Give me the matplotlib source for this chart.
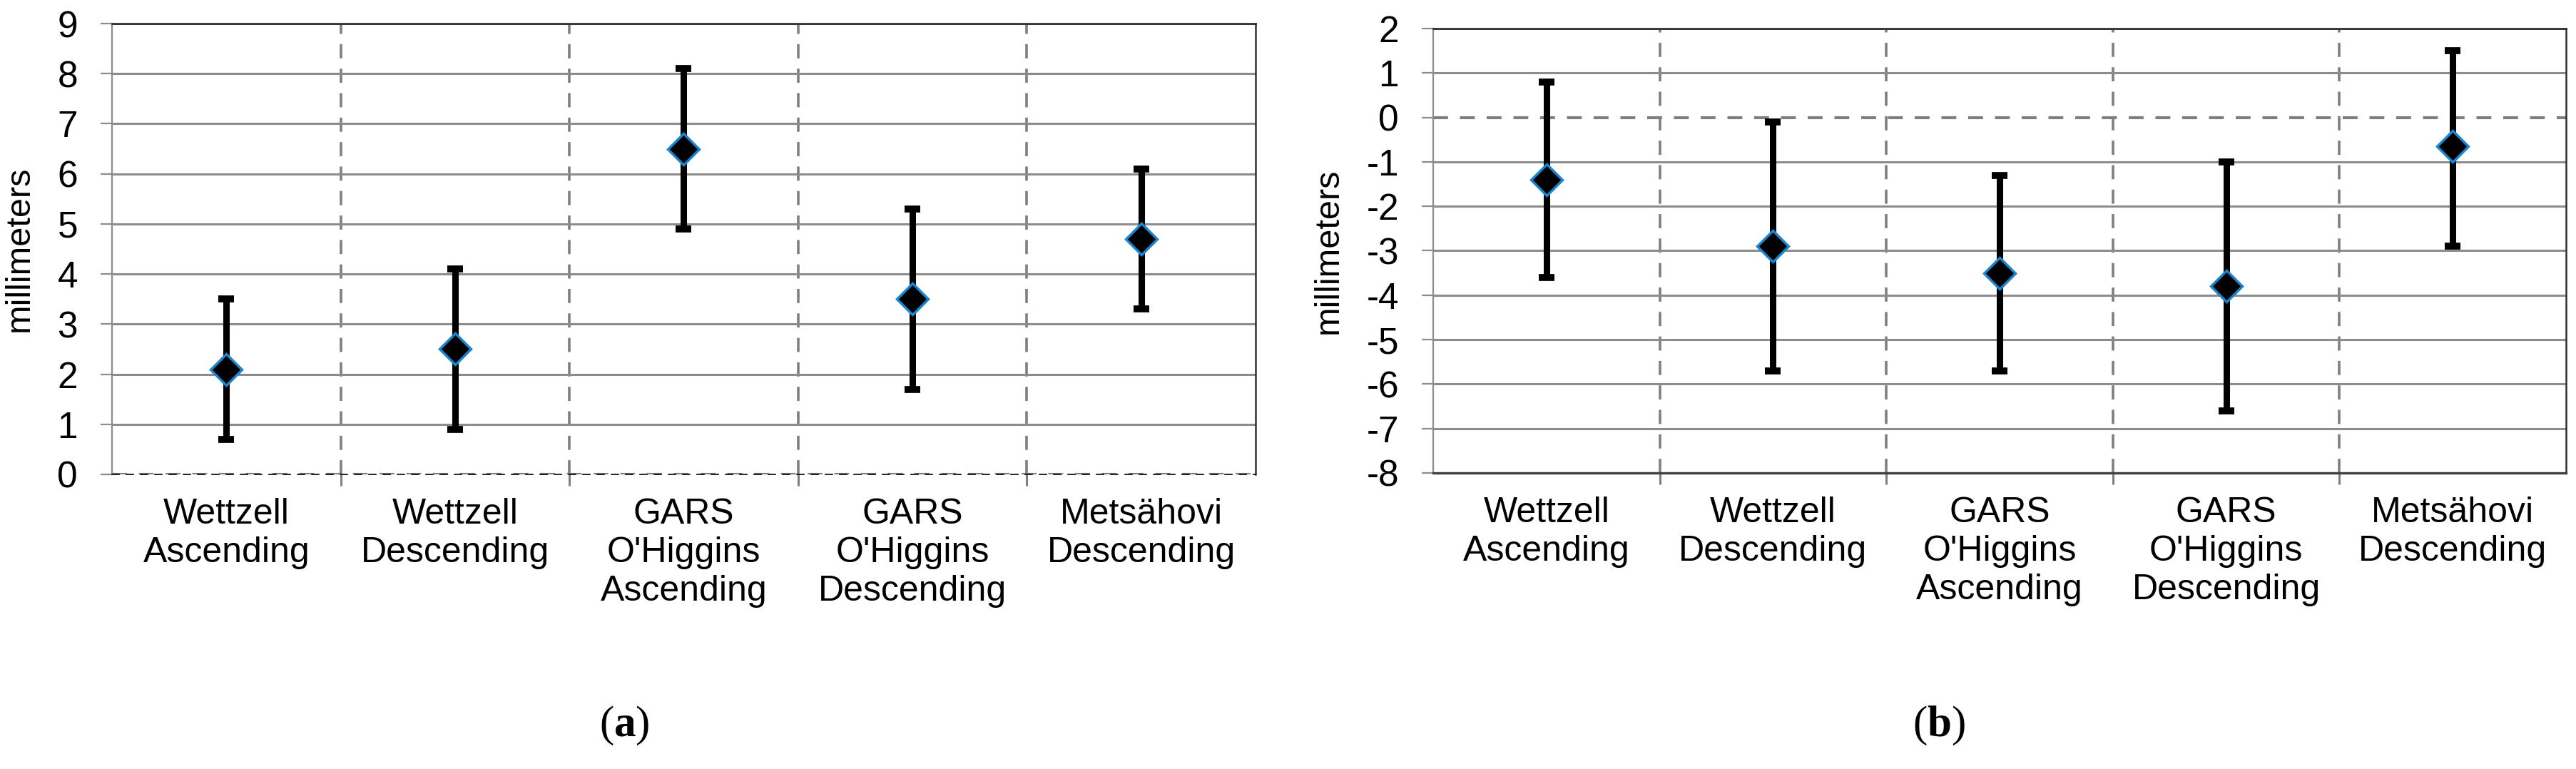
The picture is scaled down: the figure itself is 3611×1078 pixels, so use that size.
import numpy as np
import matplotlib
matplotlib.use("Agg")
import matplotlib.pyplot as plt

plt.rcParams["font.family"] = ["Liberation Sans", "DejaVu Sans"]
plt.rcParams["mathtext.fontset"] = "custom"
plt.rcParams["mathtext.rm"] = "Liberation Serif"
plt.rcParams["mathtext.bf"] = "Liberation Serif:bold"

# categories shared by both panels
categories = ["Wettzell\nAscending", "Wettzell\nDescending", "GARS\nO'Higgins\nAscending",
              "GARS\nO'Higgins\nDescending", "Metsähovi\nDescending"]

# panel (a)
a_mid = [2.1, 2.5, 6.5, 3.5, 4.7]
a_upper = [3.5, 4.1, 8.1, 5.3, 6.1]
a_lower = [0.7, 0.9, 4.9, 1.7, 3.3]

# panel (b)
b_mid = [-1.4, -2.9, -3.5, -3.8, -0.65]
b_upper = [0.8, -0.1, -1.3, -1.0, 1.5]
b_lower = [-3.6, -5.7, -5.7, -6.6, -2.9]

W, H = 3612, 1078
fig = plt.figure(figsize=(W / 100, H / 100), dpi=100)

GRID = "#8c8c8c"
DASH = "#7f7f7f"
BLUE = "#1a85d0"


def panel(rect, mid, lo, hi, ylim, zero_style):
    ax = fig.add_axes(rect)
    x = np.arange(len(categories))
    mid = np.array(mid)
    yerr = [mid - np.array(lo), np.array(hi) - mid]
    ax.errorbar(x, mid, yerr=yerr, fmt="none", ecolor="black", elinewidth=6.5,
                capsize=8, capthick=7, zorder=4)
    ax.plot(x, mid, linestyle="none", marker="D", markersize=22,
            markerfacecolor="black", markeredgecolor=BLUE, markeredgewidth=2.5, zorder=5)

    ax.set_xlim(-0.5, len(categories) - 0.5)
    ax.set_ylim(*ylim)
    ticks = np.arange(ylim[0], ylim[1] + 1)
    ax.set_yticks(ticks)
    ax.set_yticklabels([str(int(t)) for t in ticks])
    ax.set_xticks(x)
    ax.set_xticklabels(categories, linespacing=1.22)
    ax.set_xticks(np.arange(0.5, len(categories) - 0.5), minor=True)

    ax.tick_params(axis="y", which="major", length=11.5, width=1.6, color=GRID,
                   pad=23, labelsize=37)
    ax.tick_params(axis="x", which="major", length=0, pad=24, labelsize=36)
    ax.tick_params(axis="x", which="minor", length=11.5, width=2.2, color=DASH)

    ax.yaxis.grid(True, color=GRID, linewidth=2.2)
    ax.xaxis.grid(True, which="minor", color=DASH, linewidth=2.6, linestyle=(0, (5.5, 4)))
    ax.set_axisbelow(True)

    for tv, gl in zip(ticks, ax.get_ygridlines()):
        if tv == 0:
            gl.set_linestyle((0, (5, 4)))
            gl.set_color(DASH)
            gl.set_linewidth(zero_style)

    ax.spines["left"].set_color(GRID)
    ax.spines["left"].set_linewidth(1.6)
    ax.spines["top"].set_color("#202020")
    ax.spines["top"].set_linewidth(1.8)
    ax.spines["right"].set_color("#303030")
    ax.spines["right"].set_linewidth(1.8)
    ax.set_ylabel("millimeters", fontsize=35, labelpad=22)
    return ax


ax1 = panel([157 / W, 1 - 665 / H, 1603 / W, 632 / H], a_mid, a_lower, a_upper, (0, 9), 3.0)
ax1.spines["bottom"].set_color("black")
ax1.spines["bottom"].set_linewidth(1.2)
ax1.spines["bottom"].set_linestyle((0, (6, 6)))

ax2 = panel([2009 / W, 1 - 663 / H, 1588 / W, 623 / H], b_mid, b_lower, b_upper, (-8, 2), 3.0)
ax2.spines["bottom"].set_color("#404040")
ax2.spines["bottom"].set_linewidth(2.4)

fig.text(875 / W, 1 - 1017 / H, r"$\mathrm{(}\mathbf{a}\mathrm{)}$", fontsize=44,
         ha="center", va="center")
fig.text(2718 / W, 1 - 1017 / H, r"$\mathrm{(}\mathbf{b}\mathrm{)}$", fontsize=44,
         ha="center", va="center")

fig.savefig("out.png", dpi=100, facecolor="white")
